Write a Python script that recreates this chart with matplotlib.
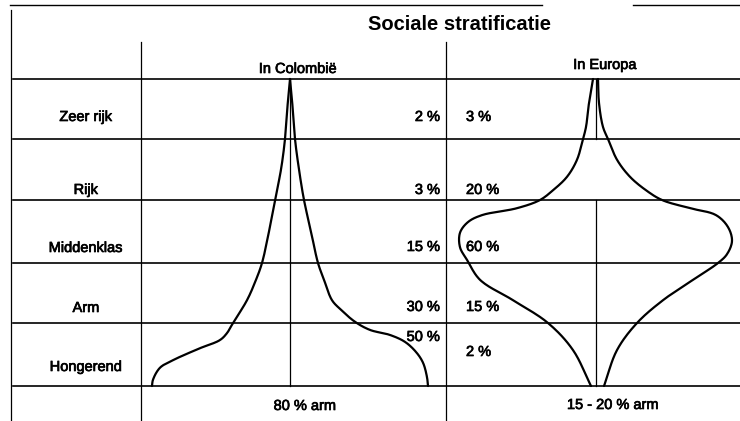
import numpy as np
import matplotlib.pyplot as plt
import matplotlib.patheffects as pe

plt.rcParams['font.family'] = ['Liberation Sans', 'DejaVu Sans']

# labels and percentages per class
rows = ['Zeer rijk', 'Rijk', 'Middenklas', 'Arm', 'Hongerend']
colombia_pct = ['2 %', '3 %', '15 %', '30 %', '50 %']
europa_pct = ['3 %', '20 %', '60 %', '15 %', '2 %']
colombia_total = '80 % arm'
europa_total = '15 - 20 % arm'

# curve profiles: depth in rows (0 = top, 5 = bottom) and the offset of the
# left / right edge from the centre line
col_lvl_l = [0, 0.35, 1, 1.5, 2, 2.5, 3, 3.28, 3.62, 4, 4.16, 4.27, 4.4, 4.59, 4.71, 4.9, 5]
col_l = [0, -2, -5, -9, -15, -21, -28, -34, -43, -57, -63, -70, -90, -117, -130, -137, -138]
col_lvl_r = [0, 0.35, 1, 1.5, 2, 2.5, 3, 3.28, 3.62, 3.78, 3.98, 4.11, 4.19, 4.3, 4.46, 4.63, 4.86, 5]
col_r = [0, 2, 5, 9, 14, 21, 28, 34, 42, 51, 65, 80, 100, 115, 126, 133, 137, 138]

eur_lvl_l = [0, 0.4, 0.8, 1, 1.34, 1.62, 1.84, 2, 2.13, 2.24, 2.35, 2.52, 2.75, 2.95, 3.28, 3.62, 4, 4.43, 5]
eur_l = [-3, -7, -10, -13, -19, -29, -43, -56, -79, -114, -128, -136, -136, -129, -116, -83, -48, -23, -5]
eur_lvl_r = [0, 0.4, 0.8, 1, 1.34, 1.62, 1.84, 2, 2.13, 2.24, 2.43, 2.65, 2.86, 3, 3.28, 3.62, 4, 4.43, 5]
eur_r = [2, 3, 7, 12, 21, 34, 50, 66, 94, 120, 132, 136, 131, 122, 97, 67, 41, 21, 8]

# layout (pixels)
row_y = [79, 139, 200, 263, 323, 386]
col_centre = 290
eur_centre = 596


def smooth(x, y, n=16):
    # centripetal catmull-rom through the read points
    pts = np.column_stack([x, y]).astype(float)
    p = np.vstack([2 * pts[0] - pts[1], pts, 2 * pts[-1] - pts[-2]])
    out = []
    for i in range(1, len(p) - 2):
        p0, p1, p2, p3 = p[i - 1], p[i], p[i + 1], p[i + 2]
        t0 = 0.0
        t1 = t0 + np.linalg.norm(p1 - p0) ** 0.5
        t2 = t1 + np.linalg.norm(p2 - p1) ** 0.5
        t3 = t2 + np.linalg.norm(p3 - p2) ** 0.5
        t = np.linspace(t1, t2, n, endpoint=False)[:, None]
        a1 = (t1 - t) / (t1 - t0) * p0 + (t - t0) / (t1 - t0) * p1
        a2 = (t2 - t) / (t2 - t1) * p1 + (t - t1) / (t2 - t1) * p2
        a3 = (t3 - t) / (t3 - t2) * p2 + (t - t2) / (t3 - t2) * p3
        b1 = (t2 - t) / (t2 - t0) * a1 + (t - t0) / (t2 - t0) * a2
        b2 = (t3 - t) / (t3 - t1) * a2 + (t - t1) / (t3 - t1) * a3
        out.append((t2 - t) / (t2 - t1) * b1 + (t - t1) / (t2 - t1) * b2)
    out.append(p[-2][None])
    return np.vstack(out)


def draw_edge(ax, centre, levels, offsets):
    y = np.interp(levels, range(len(row_y)), row_y)
    xy = smooth(centre + np.array(offsets), y)
    ax.plot(xy[:, 0], xy[:, 1], color='black', lw=1.6, solid_capstyle='round')


fig = plt.figure(figsize=(7.4, 4.21), dpi=100)
ax = fig.add_axes([0, 0, 1, 1])
ax.set_xlim(0, 740)
ax.set_ylim(421, 0)
ax.axis('off')

# frame
ax.plot([10, 542], [5, 5], color='black', lw=1.0)
ax.plot([633, 740], [5, 5], color='black', lw=1.0)
ax.plot([11, 11], [10, 421], color='black', lw=0.9)
ax.plot([141, 141], [42, 421], color='black', lw=0.9)
ax.plot([446, 446], [42, 421], color='black', lw=0.9)
for y in row_y:
    ax.plot([13, 740], [y, y], color='black', lw=1.2)

# centre lines
ax.plot([col_centre, col_centre], [row_y[0], row_y[-1]], color='black', lw=0.9)
ax.plot([eur_centre, eur_centre], [row_y[0], row_y[1]], color='black', lw=0.9)
ax.plot([eur_centre, eur_centre], [row_y[2], row_y[-1]], color='black', lw=0.9)

draw_edge(ax, col_centre, col_lvl_l, col_l)
draw_edge(ax, col_centre, col_lvl_r, col_r)
draw_edge(ax, eur_centre, eur_lvl_l, eur_l)
draw_edge(ax, eur_centre, eur_lvl_r, eur_r)

# texts (slight stroke to mimic the heavier print)
ink = [pe.withStroke(linewidth=0.5, foreground='black')]
ax.text(460, 25, 'Sociale stratificatie', fontsize=14.5, fontweight='bold',
        ha='center', va='center')
ax.text(298, 69, 'In Colombië', fontsize=10.5, ha='center', va='center', path_effects=ink)
ax.text(605, 65, 'In Europa', fontsize=10.5, ha='center', va='center', path_effects=ink)

label_y = [117, 190, 248, 308, 367]
pct_y = [117, 190, 247, 307, 337]
eur_pct_y = [117, 190, 247, 307, 352]
for name, y in zip(rows, label_y):
    ax.text(86, y, name, fontsize=10.5, ha='center', va='center', path_effects=ink)
for p, y in zip(colombia_pct, pct_y):
    ax.text(440, y, p, fontsize=10.5, ha='right', va='center', path_effects=ink)
for p, y in zip(europa_pct, eur_pct_y):
    ax.text(466, y, p, fontsize=10.5, ha='left', va='center', path_effects=ink)

ax.text(305, 406, colombia_total, fontsize=10.5, ha='center', va='center', path_effects=ink)
ax.text(613, 405, europa_total, fontsize=10.5, ha='center', va='center', path_effects=ink)

fig.savefig('out.png', dpi=100)
